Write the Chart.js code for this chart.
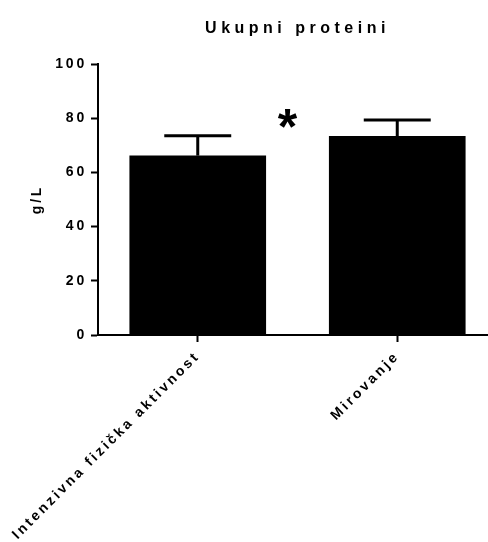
<!DOCTYPE html>
<html>
<head>
<meta charset="utf-8">
<script src="https://cdn.jsdelivr.net/npm/chart.js@4/dist/chart.umd.min.js"></script>
<style>
  html, body { margin: 0; padding: 0; background: #fff; overflow: hidden; }
  #wrap { width: 488px; height: 542px; overflow: hidden; position: relative; }
  canvas { display: block; }
</style>
</head>
<body>
<div id="wrap"><canvas id="c" width="500" height="542"></canvas></div>
<script>
// ---- data ----
const chartTitle = 'Ukupni proteini';
const yAxisTitle = 'g/L';
const categories = ['Intenzivna fizička aktivnost', 'Mirovanje'];
const means = [66.2, 73.4];
const sdUpper = [7.3, 5.9];
const yTicks = [0, 20, 40, 60, 80, 100];
const sigText = '*';
const sigValue = 78.6;

const FONT = "'Liberation Sans', Arial, Helvetica, sans-serif";
Chart.defaults.font.family = FONT;
Chart.defaults.color = '#000';

const TITLE_SPACING = '4.5px';
const AXIS_SPACING = '2.8px';

const spacingPlugin = {
  id: 'spacing',
  beforeUpdate(chart) { chart.ctx.letterSpacing = AXIS_SPACING; },
  beforeDraw(chart) { chart.ctx.letterSpacing = TITLE_SPACING; },
  afterDatasetsDraw(chart) { chart.ctx.letterSpacing = AXIS_SPACING; }
};

const errorBarPlugin = {
  id: 'errorBars',
  afterDatasetsDraw(chart) {
    const ctx = chart.ctx;
    const meta = chart.getDatasetMeta(0);
    const ys = chart.scales.y;
    ctx.save();
    ctx.strokeStyle = '#000';
    ctx.lineWidth = 3;
    ctx.lineCap = 'butt';
    meta.data.forEach((bar, i) => {
      const x = bar.x;
      const yb = ys.getPixelForValue(means[i]);
      const yt = ys.getPixelForValue(means[i] + sdUpper[i]);
      const half = bar.width * 0.245;
      ctx.beginPath();
      ctx.moveTo(x, yb);
      ctx.lineTo(x, yt);
      ctx.stroke();
      ctx.beginPath();
      ctx.moveTo(x - half, yt);
      ctx.lineTo(x + half, yt);
      ctx.stroke();
    });
    // significance marker
    const x0 = meta.data[0].x, x1 = meta.data[1].x;
    ctx.letterSpacing = '0px';
    ctx.font = 'bold 50px ' + FONT;
    ctx.fillStyle = '#000';
    ctx.textAlign = 'center';
    ctx.textBaseline = 'middle';
    ctx.fillText(sigText, (x0 + x1) / 2 - 10, ys.getPixelForValue(sigValue) + 8);
    ctx.restore();
  }
};

new Chart(document.getElementById('c'), {
  type: 'bar',
  data: {
    labels: categories,
    datasets: [{
      data: means,
      backgroundColor: '#000',
      borderWidth: 0,
      barPercentage: 0.685,
      categoryPercentage: 1.0
    }]
  },
  options: {
    responsive: false,
    animation: false,
    devicePixelRatio: 1,
    layout: { padding: { left: 0, right: 3, top: 0, bottom: 0 } },
    plugins: {
      legend: { display: false },
      tooltip: { enabled: false },
      title: {
        display: true,
        fullSize: false,
        text: chartTitle,
        color: '#000',
        font: { size: 16, weight: 'bold' },
        padding: { top: 19, bottom: 25.8 }
      }
    },
    scales: {
      x: {
        offset: true,
        grid: {
          z: 1,
          offset: false,
          drawOnChartArea: false,
          drawTicks: true,
          tickLength: 7,
          tickWidth: 2,
          tickColor: '#000'
        },
        border: { z: 1, display: true, color: '#000', width: 2 },
        ticks: {
          z: 1,
          color: '#000',
          font: { size: 14, weight: 'bold' },
          minRotation: 45,
          maxRotation: 45,
          autoSkip: false,
          padding: 6
        },
        afterFit(scale) {
          scale.height = 207;
          scale.paddingLeft = 0;
          scale.paddingRight = 0;
        }
      },
      y: {
        min: 0,
        max: 100,
        afterBuildTicks(scale) { scale.ticks = yTicks.map(v => ({ value: v })); },
        grid: {
          z: 1,
          drawOnChartArea: false,
          drawTicks: true,
          tickLength: 7,
          tickWidth: 2,
          tickColor: '#000'
        },
        border: { z: 1, display: true, color: '#000', width: 2 },
        ticks: {
          z: 1,
          color: '#000',
          font: { size: 14, weight: 'bold' },
          padding: 4
        },
        title: {
          display: true,
          text: yAxisTitle,
          color: '#000',
          font: { size: 14, weight: 'bold' },
          padding: { top: 29, bottom: 0 }
        },
        afterFit(scale) { scale.width = 98; }
      }
    }
  },
  plugins: [spacingPlugin, errorBarPlugin]
});
</script>
</body>
</html>
